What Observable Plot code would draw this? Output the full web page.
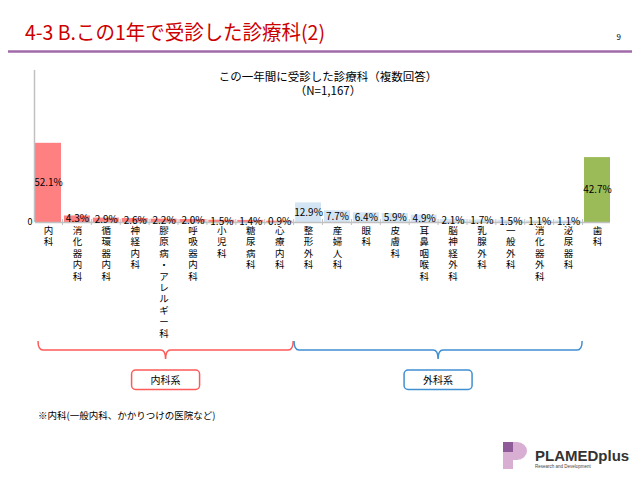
<!DOCTYPE html>
<html><head><meta charset="utf-8">
<script src="https://cdn.jsdelivr.net/npm/d3@7"></script>
<script src="https://cdn.jsdelivr.net/npm/@observablehq/plot@0.6"></script>
<style>
html,body{margin:0;padding:0;background:#fff;}
svg{display:block;font-family:"Noto Sans CJK JP",sans-serif;}
</style></head>
<body>
<div id="chart"></div>
<script>
const categories = ["内科","消化器内科","循環器内科","神経内科","膠原病・アレルギー科","呼吸器内科","小児科","糖尿病科","心療内科","整形外科","産婦人科","眼科","皮膚科","耳鼻咽喉科","脳神経外科","乳腺外科","一般外科","消化器外科","泌尿器科","歯科"];
const values = [52.1,4.3,2.9,2.6,2.2,2.0,1.5,1.4,0.9,12.9,7.7,6.4,5.9,4.9,2.1,1.7,1.5,1.1,1.1,42.7];
const groups = ["内科系","内科系","内科系","内科系","内科系","内科系","内科系","内科系","内科系","外科系","外科系","外科系","外科系","外科系","外科系","外科系","外科系","外科系","外科系","歯科"];
const groupNames = ["内科系","外科系","歯科"];
const groupColors = ["#FF8080","#D3E5F4","#9BBB59"];
const braceColors = ["#FF5A5A","#3F8FD2"];
const pageTitle = "4-3 B.この1年で受診した診療科(2)";
const pageNumber = "9";
const chartTitle = "この一年間に受診した診療科（複数回答）";
const chartSubtitle = "（N=1,167）";
const footnote = "※内科(一般内科、かかりつけの医院など)";

const data = categories.map((c,i)=>({cat:c, value:values[i], group:groups[i]}));

const W = 640, H = 480;
const mL = 35, mR = 30, mT = 70, mB = 258;
const plot = Plot.plot({
  width: W, height: H,
  marginLeft: mL, marginRight: mR, marginTop: mT, marginBottom: mB,
  style: {fontFamily: '"Noto Sans CJK JP", sans-serif', background: "#fff"},
  x: {domain: categories, paddingInner: 0.1, paddingOuter: 0.0, round: false, label: null},
  y: {domain: [0,100], label: null},
  color: {domain: groupNames, range: groupColors},
  marks: [
    Plot.barY(data, {x:"cat", y:"value", fill:"group"}),
    Plot.ruleY([0], {stroke:"#c0c0c0", strokeWidth:1.5}),
    Plot.text(data, {x:"cat", y:d=>d.value/2, text:d=>d.value.toFixed(1)+"%", fontSize:10, fill:"#000", letterSpacing:-0.3}),
    Plot.axisX({tickSize:0, tickPadding:3.5, fontSize:9.5, lineHeight:1.2, fill:"#000", label:null,
      tickFormat:d=>d.split("").join("\n")}),
    Plot.axisY({ticks:[0], tickSize:0, tickPadding:3, fontSize:9, label:null, fill:"#000"})
  ]
});
document.getElementById("chart").appendChild(plot);

const svg = d3.select(plot);
const xs = plot.scale("x");
const ys = plot.scale("y");
const bw = xs.bandwidth;
const y0 = ys.apply(0);
const yTop = ys.apply(100);

// y axis line
svg.append("line").attr("x1",mL-0.5).attr("x2",mL-0.5).attr("y1",yTop).attr("y2",y0)
  .attr("stroke","#c0c0c0").attr("stroke-width",1.5);

// small tick marks between categories on baseline
const bounds = [];
categories.forEach((c,i)=>{ if(i>0) bounds.push(xs.apply(c) - (xs.step - bw)/2); });
svg.append("g").selectAll("line").data(bounds).join("line")
  .attr("x1",d=>d).attr("x2",d=>d).attr("y1",y0-3).attr("y2",y0+3)
  .attr("stroke","#c0c0c0").attr("stroke-width",1);

// page title
svg.append("text").attr("x",25).attr("y",40).attr("font-size",20).attr("text-anchor","start")
  .attr("textLength",300).attr("lengthAdjust","spacingAndGlyphs").attr("fill","#CC0000").text(pageTitle);
svg.append("text").attr("x",621).attr("y",40).attr("font-size",8).attr("text-anchor","end").attr("fill","#000").text(pageNumber);
svg.append("line").attr("x1",8).attr("x2",632).attr("y1",51.5).attr("y2",51.5).attr("stroke","#A06AA8").attr("stroke-width",2.5);

// chart title
svg.append("text").attr("x",328).attr("y",81).attr("font-size",11.5).attr("text-anchor","middle").attr("fill","#000").text(chartTitle);
svg.append("text").attr("x",328).attr("y",95).attr("font-size",11.5).attr("text-anchor","middle").attr("fill","#000").text(chartSubtitle);

// braces and group boxes
function brace(x1,x2,color,label){
  const mid=(x1+x2)/2, yt=341, yh=350, yp=359, r=5;
  const p = `M${x1},${yt} Q${x1},${yh} ${x1+r},${yh} L${mid-r},${yh} Q${mid},${yh} ${mid},${yp} Q${mid},${yh} ${mid+r},${yh} L${x2-r},${yh} Q${x2},${yh} ${x2},${yt}`;
  svg.append("path").attr("d",p).attr("fill","none").attr("stroke",color).attr("stroke-width",1.5);
  svg.append("rect").attr("x",mid-34).attr("y",370).attr("width",68).attr("height",19.5).attr("rx",4)
    .attr("fill","#fff").attr("stroke",color).attr("stroke-width",1.5);
  svg.append("text").attr("x",mid).attr("y",383.5).attr("font-size",10).attr("text-anchor","middle").attr("fill","#000").text(label);
}
const inner = categories.filter((c,i)=>groups[i]==="内科系");
const outer = categories.filter((c,i)=>groups[i]==="外科系");
brace(xs.apply(inner[0])+3, xs.apply(inner[inner.length-1])+bw+1, braceColors[0], groupNames[0]);
brace(xs.apply(outer[0])-1, xs.apply(outer[outer.length-1])+bw+1, braceColors[1], groupNames[1]);

// footnote
svg.append("text").attr("x",38).attr("y",419).attr("font-size",9.5).attr("text-anchor","start").attr("fill","#000").text(footnote);

// logo
const lg = svg.append("g");
lg.append("path").attr("d","M503,442 L517,442 A10,9 0 0 1 517,460 L513,460 L513,469 L503,469 Z").attr("fill","#D9AED3");
lg.append("rect").attr("x",503).attr("y",442).attr("width",10).attr("height",10).attr("fill","#8E5A98");
lg.append("text").attr("x",535).attr("y",461).attr("font-size",15).attr("font-weight","bold").attr("text-anchor","start").attr("font-family","Liberation Sans, Arial, sans-serif").attr("fill","#333").text("PLAMEDplus");
lg.append("text").attr("x",535).attr("y",467.5).attr("font-size",4.5).attr("text-anchor","start").attr("font-family","Liberation Sans, Arial, sans-serif").attr("fill","#444").text("Research and Development");
</script>
</body></html>
